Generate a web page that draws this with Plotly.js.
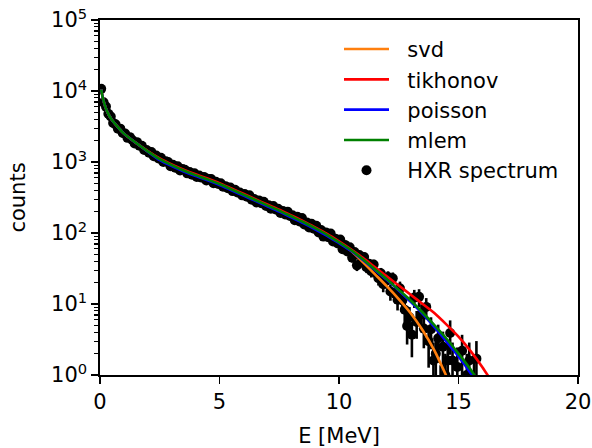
<!DOCTYPE html>
<html>
<head>
<meta charset="utf-8">
<script src="https://cdn.plot.ly/plotly-3.0.1.min.js"></script>
<style>html,body{margin:0;padding:0;background:#fff;}#chart{width:592px;height:448px;}</style>
</head>
<body>
<div id="chart"></div>
<script>
// HXR spectrum data points (E in MeV, counts)
var dataE = [0.05,0.15,0.25,0.35,0.45,0.55,0.65,0.75,0.85,0.95,
  1.05,1.15,1.25,1.35,1.45,1.55,1.65,1.75,1.85,1.95,
  2.05,2.15,2.25,2.35,2.45,2.55,2.65,2.75,2.85,2.95,
  3.05,3.15,3.25,3.35,3.45,3.55,3.65,3.75,3.85,3.95,
  4.05,4.15,4.25,4.35,4.45,4.55,4.65,4.75,4.85,4.95,
  5.05,5.15,5.25,5.35,5.45,5.55,5.65,5.75,5.85,5.95,
  6.05,6.15,6.25,6.35,6.45,6.55,6.65,6.75,6.85,6.95,
  7.05,7.15,7.25,7.35,7.45,7.55,7.65,7.75,7.85,7.95,
  8.05,8.15,8.25,8.35,8.45,8.55,8.65,8.75,8.85,8.95,
  9.05,9.15,9.25,9.35,9.45,9.55,9.65,9.75,9.85,9.95,
  10.05,10.15,10.25,10.35,10.45,10.55,10.65,10.75,10.85,10.95,
  11.05,11.15,11.25,11.35,11.45,11.55,11.65,11.75,11.85,11.95,
  12.05,12.15,12.25,12.35,12.45,12.55,12.65,12.75,12.85,12.95,
  13.05,13.15,13.25,13.35,13.45,13.55,13.65,13.75,13.85,13.95,
  14.05,14.15,14.25,14.35,14.45,14.55,14.65,14.75,14.85,14.95,
  15.05,15.15,15.25,15.35,15.45,15.55,15.65,15.75,15.85];
var dataCounts = [10720,6918,6026,4786,4365,3548,3388,2951,2951,2570,
  2512,2188,2239,2042,1820,1905,1698,1698,1479,1479,
  1349,1380,1202,1230,1122,1148,1000,1023,1000,871,
  912,832,871,759,794,776,692,724,661,692,
  617,646,603,617,550,575,575,501,525,490,
  501,447,457,427,437,389,407,372,372,339,
  355,324,339,295,302,269,288,263,275,240,
  245,219,240,214,219,191,204,182,200,174,
  178,151,170,145,162,132,141,120,135,115,
  126,102,110,89,102,87,98,76,83,71,
  81,59,68,55,63,45,54,35,49,39,
  46,33,37,29,36,27,23,27,19,21,
  24,15,23,14,11.5,16.6,11.2,8.3,4.9,6.5,
  3.7,12.3,5.6,12.6,7.2,4.5,9.1,3.0,4.4,1.6,
  2.0,3.3,0.6,2.5,1.0,1.6,3.9,1.6,null,1.3,
  null,2.2,null,1.0,1.6,null,0.7,1.7,null];

// Reconstructed spectra (E grid in MeV)
var curveE = [0.05,0.1,0.2,0.3,0.5,0.75,1,1.5,2,2.5,3,3.5,4,4.5,5,5.5,6,6.5,7,7.5,8,8.5,9,9.5,10,
  10.5,11,11.5,12,12.5,13,13.5,14,14.5,15,15.5,16,16.5];
var svd = [10470,8511,6310,5129,3890,3090,2512,1862,1413,1096,902,759,653,569,490,412,347,292,245,207,172,143,117,94.4,74.1,
  56.2,38.9,26.3,17.8,11.7,7.41,4.27,2.19,0.955,0.398];
var tikhonov = [10470,8511,6310,5129,3890,3090,2512,1862,1430,1125,927,780,671,585,504,424,357,300,252,213,177,147,120,97,76.2,
  58.9,44.7,33.1,24.5,18.2,13.5,10.0,7.41,5.13,3.47,2.19,1.29,0.708];
var poisson = [10470,8511,6310,5129,3890,3090,2512,1862,1395,1062,873,735,632,551,474,399,336,283,237,200,166,138,113,91.4,71.9,
  56.2,41.7,30.2,21.9,15.5,10.7,7.24,4.68,2.95,1.82,1.07,0.589];
var mlem = [10470,8511,6310,5129,3890,3090,2512,1862,1413,1096,902,759,653,569,490,412,347,292,245,207,172,143,117,94.4,74.1,
  57.5,42.7,30.9,22.4,15.8,11.2,7.59,5.01,3.24,2.0,1.20,0.676];

var seriesNames = ['svd', 'tikhonov', 'poisson', 'mlem', 'HXR spectrum'];
var yTickVals = [1,10,100,1000,10000,100000];
var yTickText = ['10<sup>0</sup>','10<sup>1</sup>','10<sup>2</sup>','10<sup>3</sup>','10<sup>4</sup>','10<sup>5</sup>'];
var xTickVals = [0,5,10,15,20];

var F = 'DejaVu Sans, sans-serif';
var FS = 21;
var LW = 2.6;
var PAD = '\u00a0\u00a0';

var traces = [
  {x: dataE, y: dataCounts, type: 'scatter', mode: 'markers', name: PAD + seriesNames[4],
   marker: {color: 'black', size: 10},
   error_y: {type: 'sqrt', visible: true, color: 'black', thickness: 2.6, width: 0},
   legendrank: 2000, cliponaxis: true},
  {x: curveE, y: svd, type: 'scatter', mode: 'lines', name: PAD + seriesNames[0],
   line: {color: '#ff7f0e', width: LW, shape: 'spline', smoothing: 0.6}},
  {x: curveE, y: tikhonov, type: 'scatter', mode: 'lines', name: PAD + seriesNames[1],
   line: {color: '#ff0000', width: LW, shape: 'spline', smoothing: 0.6}},
  {x: curveE, y: poisson, type: 'scatter', mode: 'lines', name: PAD + seriesNames[2],
   line: {color: '#0000ff', width: LW, shape: 'spline', smoothing: 0.6}},
  {x: curveE, y: mlem, type: 'scatter', mode: 'lines', name: PAD + seriesNames[3],
   line: {color: '#008000', width: LW, shape: 'spline', smoothing: 0.6}}
];

var layout = {
  width: 592, height: 448,
  margin: {l: 100, r: 14, t: 20, b: 73, pad: 0},
  paper_bgcolor: 'white', plot_bgcolor: 'white',
  font: {family: F, size: FS, color: 'black'},
  showlegend: true,
  legend: {x: 0.5, y: 0.975, xanchor: 'left', yanchor: 'top', bgcolor: 'rgba(0,0,0,0)',
           borderwidth: 0, font: {family: F, size: FS, color: 'black'}, itemwidth: 45, traceorder: 'normal'},
  xaxis: {range: [0, 20], tickmode: 'array', tickvals: xTickVals, ticks: 'outside', ticklen: 7, tickwidth: 1.6,
          tickcolor: 'black', showline: true, linewidth: 1.6, linecolor: 'black', mirror: true,
          showgrid: false, zeroline: false, tickfont: {family: F, size: FS},
          title: {text: 'E [MeV]', font: {family: F, size: FS}, standoff: 16}, automargin: false},
  yaxis: {type: 'log', range: [0, 5], tickmode: 'array', tickvals: yTickVals, ticktext: yTickText,
          ticks: 'outside', ticklen: 7, tickwidth: 1.6, tickcolor: 'black',
          minor: {ticks: 'outside', ticklen: 4, tickwidth: 1.2, tickcolor: 'black', dtick: 'D1', showgrid: false},
          showline: true, linewidth: 1.6, linecolor: 'black', mirror: true,
          showgrid: false, zeroline: false, tickfont: {family: F, size: FS},
          title: {text: 'counts', font: {family: F, size: FS}, standoff: 20}, automargin: false}
};

Plotly.newPlot('chart', traces, layout, {displayModeBar: false, staticPlot: true});
</script>
</body>
</html>
